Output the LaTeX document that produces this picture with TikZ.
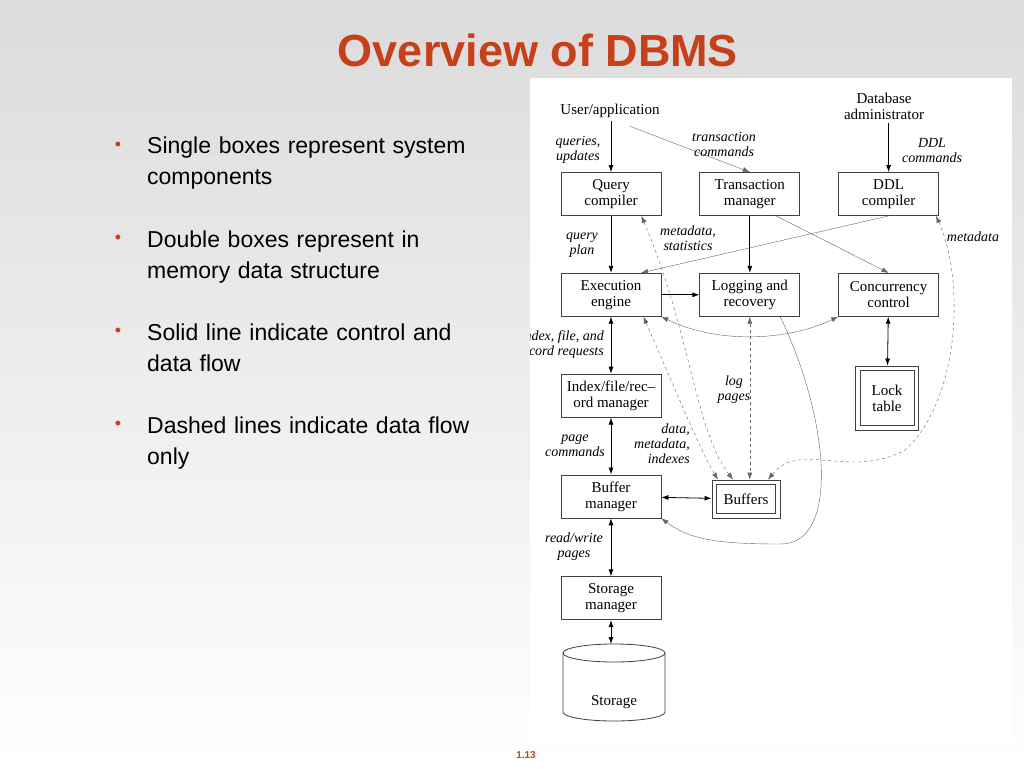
\documentclass[tikz,border=0pt]{standalone}
\usepackage{fontspec}
\setmainfont{Liberation Serif}
\newfontfamily\sansfont{Liberation Sans}
\usetikzlibrary{arrows.meta,positioning}
\definecolor{Title}{HTML}{C8401A}
\tikzset{comp/.style ={
        rectangle,
        draw=black!75,
        thick,
        fill=white,
        minimum width=100pt,
        minimum height=43pt,
        inner sep=0pt,
        align=center,
        font=\fontsize{15}{16}\selectfont
    },
    mem/.style ={
        rectangle,
        draw=black!75,
        thick,
        fill=white,
        align=center,
        font=\fontsize{15}{16}\selectfont
    },
    lbl/.style ={
        font=\fontsize{14}{15}\selectfont\itshape,
        align=center,
        inner sep=1pt
    },
    flow/.style ={
        draw,
        thick,
        -{Latex[length=7pt,width=5pt]}
    },
    both/.style ={
        draw,
        thick,
        {Latex[length=7pt,width=5pt]}-{Latex[length=7pt,width=5pt]}
    },
    thin/.style ={
        draw=black!60,
        -{Latex[length=7pt,width=5pt]}
    },
    dataonly/.style ={
        draw=black!60,
        dashed,
        {Latex[length=7pt,width=5pt]}-{Latex[length=7pt,width=5pt]}
    },
    bullet/.style ={
        font=\sansfont\fontsize{23}{31}\selectfont,
        text width=370pt,
        anchor=north west,
        inner sep=0pt
    }}
\begin{document}
\begin{tikzpicture}
    [
    x=1pt, y=-1pt,
    node distance=57pt and 38pt
    ]
    % slide background
    \shade[top color=black!14, bottom color=white] (0,0) rectangle (1024,768);
    \useasboundingbox (0,0) rectangle (1024,768);
    \fill[white] (530,78) rectangle (1012,745);

    \node (title) at (538,50) [font=\sansfont\bfseries\fontsize{45}{47}\selectfont, text=Title] {Overview of DBMS};
    \node (pageno) at (526,755) [font=\sansfont\bfseries\fontsize{10}{11}\selectfont, text=Title] {1.13};

    % bullet points
    \node (b1) at (147,137) [bullet] {Single boxes represent system\\components};
    \node (b2) at (147,231) [bullet] {Double boxes represent in\\memory data structure};
    \node (b3) at (147,324) [bullet] {Solid line indicate control and\\data flow};
    \node (b4) at (147,417) [bullet] {Dashed lines indicate data flow\\only};
    \foreach \y in {146,239,332,425}
        \node at (118,\y) [font=\sansfont\fontsize{18}{18}\selectfont, text=Title] {\textbullet};

    % components
    \node (query)[comp] at (611,194) {Query\\compiler};
    \node (trans)[comp,right=of query] {Transaction\\manager};
    \node (ddl)[comp,right=of trans] {DDL\\compiler};
    \node (exec)[comp,below=of query] {Execution\\engine};
    \node (log)[comp,right=of exec] {Logging and\\recovery};
    \node (conc)[comp,right=of log] {Concurrency\\control};
    \node (index)[comp,below=of exec] {Index/file/rec--\\ord manager};
    \node (bufman)[comp,below=of index] {Buffer\\manager};
    \node (storman)[comp,below=58pt of bufman] {Storage\\manager};
    \node (lock)[mem,minimum width=63pt,minimum height=64pt] at (887,398) {Lock\\table};
    \node (buffers)[mem,minimum width=68pt,minimum height=38pt] at (746,499) {Buffers};
    \draw[black!75, thick] ([shift={(5,5)}]lock.north west) rectangle ([shift={(-5,-5)}]lock.south east);
    \draw[black!75, thick] ([shift={(5,5)}]buffers.north west) rectangle ([shift={(-5,-5)}]buffers.south east);

    \node (user) at (610,111) [font=\fontsize{15}{16}\selectfont] {User/application};
    \node (dba) at (884,106) [font=\fontsize{15}{16}\selectfont, align=center] {Database\\administrator};

    % storage cylinder
    \filldraw[draw=black!75, thick, fill=white] (563,653) -- (563,712) arc[start angle=180, end angle=0, x radius=51, y radius=9] -- (665,653) arc[start angle=0, end angle=-180, x radius=51, y radius=9];
    \draw[black!75, thick] (563,653) arc[start angle=180, end angle=0, x radius=51, y radius=9];
    \node (storage) at (614,702) [font=\fontsize{15}{16}\selectfont] {Storage};
    \coordinate (stortop) at (611,644);

    % control and data flow
    \draw[flow] (user.south -| query) -- (query);
    \draw[thin] (user.south) ++(20,5) coordinate (ua) (ua) -- (trans.north);
    \draw[flow] (dba.south -| ddl) -- (ddl);
    \draw[flow] (query) -- (exec);
    \draw[flow] (trans) -- (log);
    \draw[thin] (trans.south east) ++(-24,0) coordinate (ta) (ta) -- (conc.north);
    \draw[thin] (ddl.south) -- ([xshift=30pt]exec.north);
    \draw[flow] (exec) -- (log);
    \draw[both] (exec) -- (index);
    \draw[both] (index) -- (bufman);
    \draw[both] (bufman) -- (storman);
    \draw[both] (storman) -- (stortop);
    \draw[both] (bufman) -- (buffers);
    \draw[both] (conc) -- (lock);
    \draw[thin, {Latex[length=7pt,width=5pt]}-{Latex[length=7pt,width=5pt]}] (exec.south east) .. controls (720,345) and (790,340) .. (conc.south west);
    \draw[thin] ([xshift=-20pt]log.south east) .. controls (830,420) and (840,545) .. (780,544) .. controls (720,544) and (690,540) .. (bufman.south east);

    % data flow only
    \draw[dataonly] ([xshift=-20pt]query.south east) .. controls (690,330) and (695,430) .. ([xshift=-13pt]buffers.north);
    \draw[dataonly] ([xshift=-18pt]exec.south east) .. controls (680,400) and (700,450) .. ([xshift=-28pt]buffers.north);
    \draw[dataonly] (log.south) -- (log.south |- buffers.north);
    \draw[dataonly] ([xshift=-3pt]ddl.south east) .. controls (965,280) and (960,400) .. (905,450) .. controls (850,480) and (800,440) .. ([xshift=22pt]buffers.north);

    % labels
    \node[lbl] at (578,150) {queries,\\updates};
    \node[lbl] at (724,144) {transaction\\commands};
    \node[lbl] at (932,150) {DDL\\commands};
    \node[lbl] at (582,245) {query\\plan};
    \node[lbl] at (688,238) {metadata,\\statistics};
    \node[lbl] at (973,237) {metadata};
    \begin{scope}
        \clip (530,78) rectangle (1012,745);
        \node[lbl, align=right, anchor=east] at (605,345) {index, file, and\\record requests};
    \end{scope}
    \node[lbl] at (734,390) {log\\pages};
    \node[lbl] at (575,446) {page\\commands};
    \node[lbl, align=right] at (662,444) {data,\\metadata,\\indexes};
    \node[lbl] at (574,547) {read/write\\pages};
\end{tikzpicture}
\end{document}
